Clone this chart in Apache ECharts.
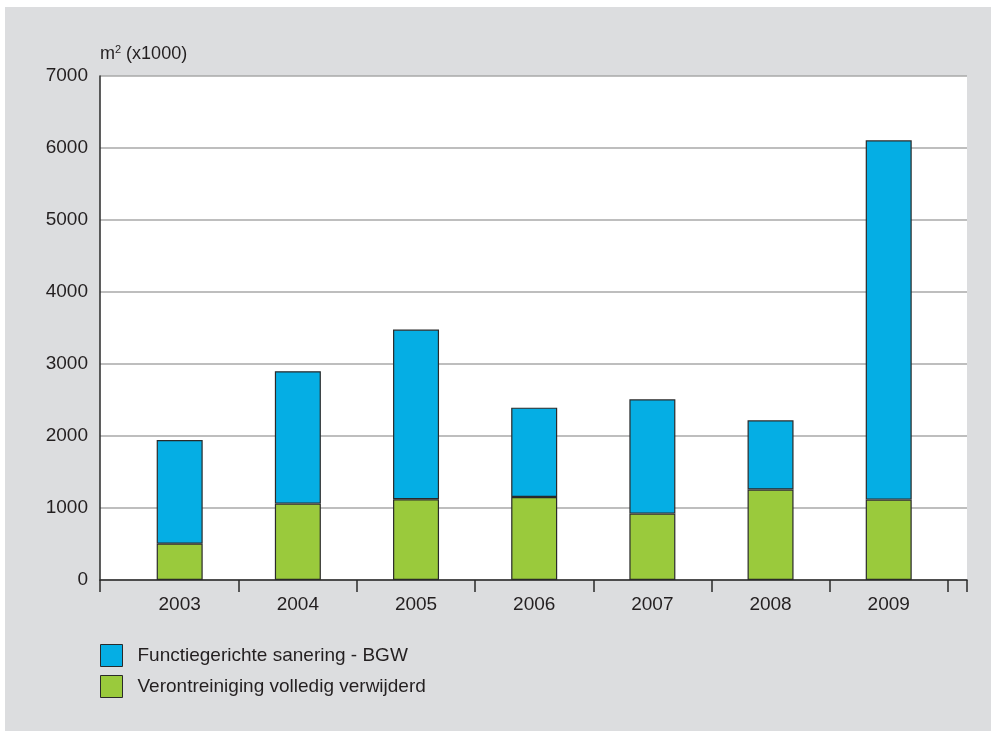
<!DOCTYPE html>
<html>
<head>
<meta charset="utf-8">
<script src="https://cdn.jsdelivr.net/npm/echarts@6/dist/echarts.min.js"></script>
<style>
  html, body { margin: 0; padding: 0; background: #ffffff; }
  #chart { width: 993px; height: 731px; }
</style>
</head>
<body>
<div id="chart"></div>
<script>
// Gesaneerde oppervlakte per jaar (m² x1000)
const years = ['2003', '2004', '2005', '2006', '2007', '2008', '2009'];
const volledigVerwijderd = [505, 1061, 1121, 1153, 922, 1256, 1117];
const functiegericht = [1439, 1839, 2357, 1241, 1588, 962, 4990];
const yTicks = { min: 0, max: 7000, interval: 1000 };

const FONT = '"Liberation Sans", Arial, sans-serif';
const FS = 19;
const TEXT = '#231f20';
const BLUE = '#05aee4';
const GREEN = '#9aca3c';
const EDGE = '#2a2a2a';

const chart = echarts.init(document.getElementById('chart'), null, { renderer: 'canvas' });

chart.setOption({
  backgroundColor: '#ffffff',
  animation: false,
  textStyle: { fontFamily: FONT, color: TEXT },
  graphic: [{
    type: 'rect', z: -10, silent: true,
    shape: { x: 5, y: 7, width: 986, height: 724 },
    style: { fill: '#dcdddf' }
  }],
  grid: [
    // full plot panel: white background, y axis, gridlines
    { left: 100, right: 26, top: 76, bottom: 151, show: true, backgroundColor: '#ffffff', borderWidth: 0 },
    // bar area inside the panel
    { left: 120.6, right: 45.2, top: 76, bottom: 151 }
  ],
  xAxis: [
    {
      gridIndex: 0, type: 'value', min: 0, max: 1, interval: 1,
      axisLine: { show: true, lineStyle: { color: EDGE, width: 1.5 } },
      axisTick: { show: true, length: 12, inside: false, lineStyle: { color: EDGE, width: 1.5 } },
      axisLabel: { show: false },
      splitLine: { show: false }
    },
    {
      gridIndex: 1, type: 'category', data: years,
      axisLine: { show: false },
      axisTick: {
        show: true, length: 12, lineStyle: { color: EDGE, width: 1.5 },
        interval: function (idx) { return idx !== 0; }
      },
      axisLabel: { color: TEXT, fontSize: FS, fontFamily: FONT, margin: 15 },
      splitLine: { show: false }
    }
  ],
  yAxis: [
    {
      gridIndex: 0, type: 'value',
      min: yTicks.min, max: yTicks.max, interval: yTicks.interval,
      name: 'm{s|2} (x1000)',
      nameLocation: 'end',
      nameGap: 12,
      nameTextStyle: {
        align: 'left', verticalAlign: 'bottom', color: TEXT, fontSize: 18, fontFamily: FONT,
        rich: { s: { fontSize: 11, verticalAlign: 'top', padding: [0, 0, 9, 0], color: TEXT, fontFamily: FONT } }
      },
      axisLine: { show: true, lineStyle: { color: EDGE, width: 1.5 } },
      axisTick: { show: false },
      axisLabel: {
        color: TEXT, fontSize: FS, fontFamily: FONT, margin: 12,
        formatter: function (v) { return String(v); }
      },
      splitLine: { show: true, lineStyle: { color: '#a9a9a9', width: 1.5 } }
    },
    {
      gridIndex: 1, type: 'value',
      min: yTicks.min, max: yTicks.max, interval: yTicks.interval,
      show: false
    }
  ],
  legend: {
    orient: 'vertical',
    left: 95, top: 639,
    itemWidth: 22, itemHeight: 22, itemGap: 8,
    icon: 'rect',
    itemStyle: { borderColor: EDGE, borderWidth: 1 },
    textStyle: { color: TEXT, fontSize: FS, fontFamily: FONT, padding: [0, 0, 0, 10] },
    data: ['Functiegerichte sanering - BGW', 'Verontreiniging volledig verwijderd']
  },
  series: [
    {
      name: 'Verontreiniging volledig verwijderd',
      type: 'bar', stack: 'totaal',
      xAxisIndex: 1, yAxisIndex: 1,
      barWidth: 46,
      data: volledigVerwijderd,
      itemStyle: { color: GREEN, borderColor: EDGE, borderWidth: 1.2 }
    },
    {
      name: 'Functiegerichte sanering - BGW',
      type: 'bar', stack: 'totaal',
      xAxisIndex: 1, yAxisIndex: 1,
      barWidth: 46,
      data: functiegericht,
      itemStyle: { color: BLUE, borderColor: EDGE, borderWidth: 1.2 }
    }
  ]
});
</script>
</body>
</html>
